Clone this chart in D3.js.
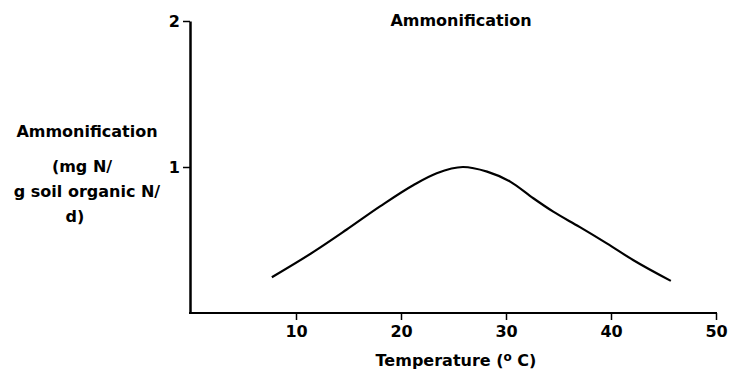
<!DOCTYPE html>
<html>
<head>
<meta charset="utf-8">
<script src="https://d3js.org/d3.v7.min.js"></script>
<style>
  body { margin: 0; background: #fff; }
  text { font-family: "DejaVu Sans", "Liberation Sans", sans-serif; font-weight: bold; fill: #000; }
</style>
</head>
<body>
<svg id="vis" width="730" height="375"></svg>
<script>
    // values
    var temps = [7.7, 11.7, 14.8, 18.0, 21.2, 23.4, 25.9, 28.2, 30.4, 32.6, 34.5, 37.0, 39.6, 42.1, 45.7]
    var rates = [0.245, 0.42, 0.57, 0.73, 0.877, 0.957, 1.0, 0.968, 0.90, 0.786, 0.694, 0.59, 0.477, 0.363, 0.22]
    var xTicks = [10, 20, 30, 40, 50]
    var yTicks = [1, 2]
    var yLabel = ["Ammonification", "(mg N/", "g soil organic N/", "d)"]

    var svg = d3.select("#vis")

    var x = d3.scaleLinear().domain([0, 50]).range([191, 716])
    var y = d3.scaleLinear().domain([0, 2]).range([313, 21])

    // x axis
    var gx = svg.append("g")
        .attr("transform", "translate(0," + y(0) + ")")
        .call(d3.axisBottom(x).tickValues(xTicks).tickSize(7).tickSizeOuter(0).tickPadding(6))
    gx.select(".domain").attr("stroke-width", 2).attr("d", "M189,0H717")
    gx.selectAll(".tick line").attr("stroke-width", 1.5)
    gx.selectAll(".tick text").style("font-size", "16px")

    // y axis
    var gy = svg.append("g")
        .attr("transform", "translate(190,0)")
        .call(d3.axisLeft(y).tickValues(yTicks).tickFormat(d3.format("d"))
            .tickSize(7).tickSizeOuter(0).tickPadding(3))
    gy.select(".domain").attr("stroke-width", 2.5)
    gy.selectAll(".tick line").attr("stroke-width", 1.5)
    gy.selectAll(".tick text").style("font-size", "16px")

    // curve
    var line = d3.line()
        .x(function(d, i) { return x(temps[i]) })
        .y(function(d, i) { return y(rates[i]) })
        .curve(d3.curveMonotoneX)

    svg.append("path")
        .datum(rates)
        .attr("d", line)
        .attr("fill", "none")
        .attr("stroke", "#000")
        .attr("stroke-width", 2.2)

    // title
    svg.append("text")
        .attr("x", 461).attr("y", 26)
        .attr("text-anchor", "middle")
        .style("font-size", "16px")
        .text("Ammonification")

    // y label
    var ly = [137, 172, 197, 222]
    var lx = [87, 82, 87, 75]
    yLabel.forEach(function(t, i) {
        svg.append("text")
            .attr("x", lx[i]).attr("y", ly[i])
            .attr("text-anchor", "middle")
            .style("font-size", "16px")
            .text(t)
    })

    // x label
    var xl = svg.append("text")
        .attr("x", 456).attr("y", 366)
        .attr("text-anchor", "middle")
        .style("font-size", "16px")
    xl.append("tspan").text("Temperature  (")
    xl.append("tspan").attr("dy", -5).style("font-size", "12px").text("o")
    xl.append("tspan").attr("dy", 5).text(" C)")
</script>
</body>
</html>
